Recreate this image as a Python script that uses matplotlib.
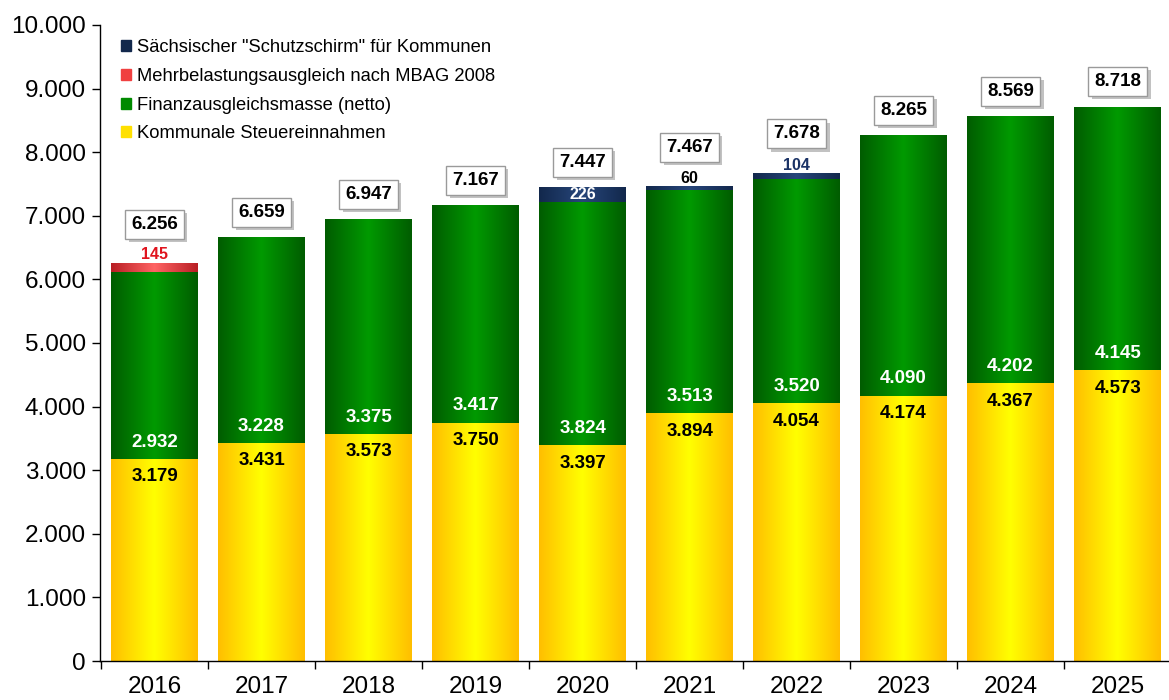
import numpy as np
import matplotlib
matplotlib.use("Agg")
import matplotlib.pyplot as plt
from matplotlib.colors import LinearSegmentedColormap
from matplotlib.patches import Patch
from matplotlib.ticker import FuncFormatter, MultipleLocator, FixedLocator
import matplotlib.patheffects as pe

plt.rcParams["font.family"] = ["Liberation Sans", "DejaVu Sans"]

# --- data (Mio. EUR) ---
years = ["2016", "2017", "2018", "2019", "2020", "2021", "2022", "2023", "2024", "2025"]
steuer = [3179, 3431, 3573, 3750, 3397, 3894, 4054, 4174, 4367, 4573]
finanz = [2932, 3228, 3375, 3417, 3824, 3513, 3520, 4090, 4202, 4145]
mbag = [145, 0, 0, 0, 0, 0, 0, 0, 0, 0]
schirm = [0, 0, 0, 0, 226, 60, 104, 0, 0, 0]
totals = [6256, 6659, 6947, 7167, 7447, 7467, 7678, 8265, 8569, 8718]

legend_labels = [
    'Sächsischer "Schutzschirm" für Kommunen',
    "Mehrbelastungsausgleich nach MBAG 2008",
    "Finanzausgleichsmasse (netto)",
    "Kommunale Steuereinnahmen",
]

# gradient definitions: (edge colour, centre colour)
grad_yellow = ("#FFBE00", "#FFFF00")
grad_green = ("#005C00", "#009A00")
grad_red = ("#B81E24", "#FF6464")
grad_navy = ("#12284C", "#27467A")

fig = plt.figure(figsize=(11.69, 7.0), dpi=100)
ax = fig.add_axes([0.0855, 0.0557, 0.9145, 0.9086])

x = np.arange(len(years))
width = 0.81


def fmt(v):
    return f"{int(v):,}".replace(",", ".")


def gradient_bars(xs, heights, bottoms, colors, zorder=2):
    edge, centre = colors
    cmap = LinearSegmentedColormap.from_list("g", [edge, centre, edge])
    grad = np.linspace(0, 1, 256).reshape(1, -1)
    bars = ax.bar(xs, heights, width, bottom=bottoms, color=centre,
                  edgecolor="none", zorder=zorder)
    for b in bars:
        h = b.get_height()
        if h <= 0:
            continue
        x0, y0 = b.get_x(), b.get_y()
        im = ax.imshow(grad, cmap=cmap, aspect="auto", interpolation="bicubic",
                       extent=(x0, x0 + b.get_width(), y0, y0 + h),
                       zorder=zorder + 0.1)
        im.set_clip_path(b)
    return bars


b1 = np.array(steuer)
b2 = b1 + np.array(finanz)
b3 = b2 + np.array(mbag)

gradient_bars(x, steuer, 0, grad_yellow)
gradient_bars(x, finanz, b1, grad_green)
gradient_bars(x, mbag, b2, grad_red)
gradient_bars(x, schirm, b3, grad_navy)

ax.set_xlim(-0.51, 9.48)
ax.set_ylim(0, 10000)

# --- axes styling ---
for s in ["top", "right"]:
    ax.spines[s].set_visible(False)
ax.spines["left"].set_linewidth(1.0)
ax.spines["bottom"].set_linewidth(1.0)
ax.yaxis.set_major_locator(MultipleLocator(1000))
ax.yaxis.set_major_formatter(FuncFormatter(lambda v, p: fmt(v)))
ax.tick_params(axis="y", direction="out", length=6, width=1.0, labelsize=17.5, pad=4)
ax.set_xticks(x)
ax.set_xticklabels(years)
ax.tick_params(axis="x", which="major", length=0, labelsize=17.5, pad=11)
ax.xaxis.set_minor_locator(FixedLocator(np.arange(-0.5, 9.0, 1.0)))
ax.tick_params(axis="x", which="minor", direction="out", length=6, width=1.0)

# --- segment labels ---
for i in x:
    ax.annotate(fmt(steuer[i]), (i, steuer[i]),
                xytext=(0, -13), textcoords="offset points", ha="center", va="center",
                fontsize=13.5, fontweight="bold", color="black", zorder=5)
    ax.annotate(fmt(finanz[i]), (i, steuer[i]),
                xytext=(0, 12), textcoords="offset points", ha="center", va="center",
                fontsize=13.5, fontweight="bold", color="white", zorder=5)

# small top components
ax.annotate(str(mbag[0]), (0, b3[0]), xytext=(0, 6.5), textcoords="offset points",
            ha="center", va="center", fontsize=11.5, fontweight="bold",
            color="#E0141E", zorder=5)
ax.annotate(str(schirm[4]), (4, b3[4] + schirm[4] / 2), ha="center", va="center",
            fontsize=11.5, fontweight="bold", color="white", zorder=5)
ax.annotate(str(schirm[5]), (5, b3[5] + schirm[5]), xytext=(0, 5.5),
            textcoords="offset points", ha="center", va="center", fontsize=11.5,
            fontweight="bold", color="black", zorder=5)
ax.annotate(str(schirm[6]), (6, b3[6] + schirm[6]), xytext=(0, 5.5),
            textcoords="offset points", ha="center", va="center", fontsize=11.5,
            fontweight="bold", color="#1B3366", zorder=5)

# --- total labels in boxes with drop shadow ---
extra = {0: 10, 5: 10, 6: 10}
shadow = [pe.SimplePatchShadow(offset=(2.5, -2.5), shadow_rgbFace="#9A9A9A", alpha=0.6),
          pe.Normal()]
for i in x:
    dy = 18 + extra.get(i, 0)
    t = ax.annotate(fmt(totals[i]), (i, totals[i]), xytext=(0, dy),
                    textcoords="offset points", ha="center", va="center",
                    fontsize=13.5, fontweight="bold", color="black", zorder=7,
                    bbox=dict(boxstyle="square,pad=0.32", fc="white", ec="#9A9A9A", lw=1.0))
    t.get_bbox_patch().set_path_effects(shadow)

# --- legend ---
handles = [Patch(color=grad_navy[0]), Patch(color="#F04040"),
           Patch(color="#008A00"), Patch(color="#FFE000")]
ax.legend(handles, legend_labels, loc="upper left", bbox_to_anchor=(0.008, 0.998),
          frameon=False, fontsize=13.2, handlelength=0.55, handleheight=0.55,
          handletextpad=0.3, labelspacing=0.64, borderaxespad=0.3)

fig.savefig("out.png", dpi=100)
